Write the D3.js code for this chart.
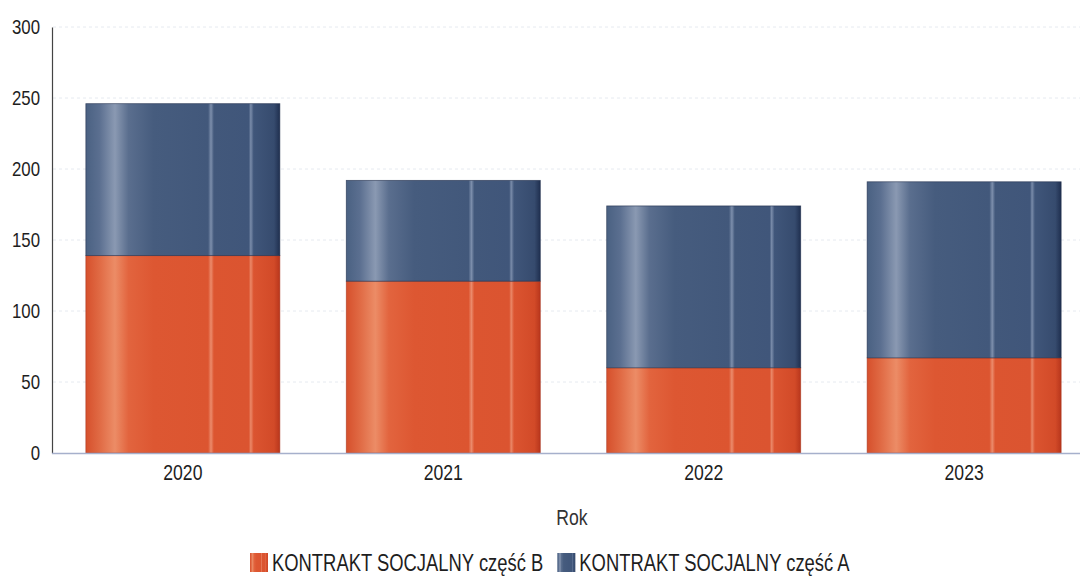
<!DOCTYPE html>
<html>
<head>
<meta charset="utf-8">
<script src="https://cdn.jsdelivr.net/npm/d3@7"></script>
<style>
  body { margin: 0; background: #fff; }
  text { font-family: "Liberation Sans", Arial, sans-serif; fill: #1e1e1e; }
</style>
</head>
<body>
<div id="chart"></div>
<script>
// data
var years = ["2020", "2021", "2022", "2023"];
var partB = [139, 121, 60, 67];   // KONTRAKT SOCJALNY część B (bottom, orange)
var partA = [107, 71, 114, 124];  // KONTRAKT SOCJALNY część A (top, blue)
var yTicks = [0, 50, 100, 150, 200, 250, 300];
var seriesNames = ["KONTRAKT SOCJALNY część B", "KONTRAKT SOCJALNY część A"];

var W = 1080, H = 576;
var squeeze = 0.8; // the source font is a narrow one

var svg = d3.select("#chart").append("svg")
  .attr("width", W).attr("height", H);

// narrow the text like Arial Narrow
function narrow(sel) {
  sel.each(function() {
    var len = this.getComputedTextLength();
    d3.select(this).attr("textLength", len * squeeze).attr("lengthAdjust", "spacingAndGlyphs");
  });
}

// gradients, vertical stripes like in the scan
var defs = svg.append("defs");
function stripes(id, stops) {
  var g = defs.append("linearGradient").attr("id", id)
    .attr("x1", "0%").attr("x2", "100%").attr("y1", "0%").attr("y2", "0%");
  stops.forEach(function(s) {
    g.append("stop").attr("offset", s[0]).attr("stop-color", s[1]);
  });
}
stripes("gradA", [
  [0, "#4a6182"], [0.07, "#5b6f90"], [0.15, "#8a99b2"], [0.22, "#5a6e8e"],
  [0.35, "#465c7e"], [0.63, "#42587b"], [0.645, "#7d8fac"], [0.66, "#42587b"],
  [0.84, "#40567a"], [0.85, "#7a8caa"], [0.865, "#40567a"], [0.97, "#364b6e"], [1, "#1f2f4f"]
]);
stripes("gradB", [
  [0, "#d6502c"], [0.07, "#e06a44"], [0.15, "#ec8c66"], [0.22, "#e2643e"],
  [0.35, "#dd5732"], [0.63, "#dc5530"], [0.645, "#eb8b6c"], [0.66, "#dc5530"],
  [0.84, "#db5430"], [0.85, "#ea8868"], [0.865, "#db5430"], [0.97, "#d24a28"], [1, "#b8361c"]
]);

var x = d3.scaleBand()
  .domain(years)
  .range([52, 1095])
  .paddingInner(0.255)
  .paddingOuter(0.13);

var y = d3.scaleLinear()
  .domain([0, 300])
  .range([453, 27]);

// faint grid lines
svg.append("g")
  .selectAll("line")
  .data(yTicks.filter(function(d) { return d > 0; }))
  .enter()
  .append("line")
    .attr("x1", 53).attr("x2", W)
    .attr("y1", function(d) { return y(d); })
    .attr("y2", function(d) { return y(d); })
    .style("stroke", "#e6eaf0")
    .style("stroke-dasharray", "3,3")
    .style("stroke-width", 1);

// stacked bars
var rows = years.map(function(yr, i) { return { year: yr, B: partB[i], A: partA[i] }; });
var stack = d3.stack().keys(["B", "A"])(rows);
var fills = { B: "url(#gradB)", A: "url(#gradA)" };
var edges = { B: "#a83520", A: "#1c2b48" };

svg.append("g")
  .selectAll("g")
  .data(stack)
  .enter()
  .append("g")
  .each(function(layer) {
    d3.select(this).selectAll("rect")
      .data(layer)
      .enter()
      .append("rect")
        .attr("x", function(d) { return x(d.data.year); })
        .attr("y", function(d) { return y(d[1]); })
        .attr("width", x.bandwidth())
        .attr("height", function(d) { return y(d[0]) - y(d[1]); })
        .style("fill", fills[layer.key])
        .style("stroke", edges[layer.key])
        .style("stroke-width", 0.8)
        .style("stroke-opacity", 0.7);
  });

// y axis
var yAxis = svg.append("g")
  .attr("transform", "translate(52,0)")
  .call(d3.axisLeft(y).tickValues(yTicks).tickSize(0).tickPadding(12));
yAxis.select(".domain").style("stroke", "#444").style("stroke-width", 1.2);
yAxis.selectAll("text")
  .style("font-size", "21px")
  .style("font-family", "Liberation Sans, Arial, sans-serif")
  .style("fill", "#1e1e1e")
  .call(narrow);

// x axis
var xAxis = svg.append("g")
  .attr("transform", "translate(0,453)")
  .call(d3.axisBottom(x).tickSize(0).tickPadding(11));
xAxis.select(".domain")
  .attr("d", "M52,0.5H" + W)
  .style("stroke", "#a6b0cc").style("stroke-width", 1.5);
xAxis.selectAll("text")
  .style("font-size", "22px")
  .style("font-family", "Liberation Sans, Arial, sans-serif")
  .style("fill", "#1e1e1e")
  .call(narrow);

// axis title
svg.append("text")
  .attr("x", 572).attr("y", 525)
  .attr("text-anchor", "middle")
  .style("font-size", "22px")
  .style("fill", "#333")
  .text("Rok")
  .call(narrow);

// legend
var legend = svg.append("g").attr("transform", "translate(250,0)");
var lx = 0;
seriesNames.forEach(function(name, i) {
  var g = legend.append("g").attr("transform", "translate(" + lx + ",0)");
  g.append("rect")
    .attr("x", 0).attr("y", 553).attr("width", 18).attr("height", 19)
    .style("fill", i === 0 ? "url(#gradB)" : "url(#gradA)");
  var t = g.append("text")
    .attr("x", 22).attr("y", 571)
    .style("font-size", "23px")
    .text(name)
    .call(narrow);
  lx += 22 + (+t.attr("textLength")) + 14;
});
</script>
</body>
</html>
